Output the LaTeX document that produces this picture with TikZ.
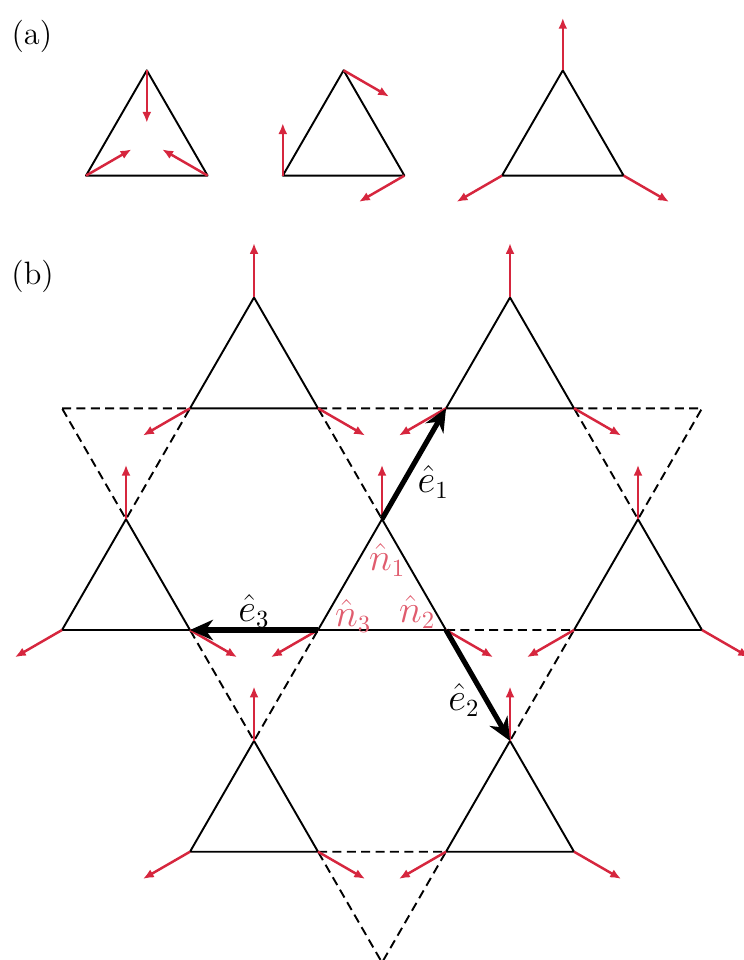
\documentclass[tikz,border=0pt]{standalone}
\usepackage{tikz}
\usetikzlibrary{arrows.meta}
\definecolor{spinred}{RGB}{214,38,62}
\tikzset{
  bond/.style  = {line width=0.85pt, line join=round},
  dbond/.style = {bond, dash pattern=on 4pt off 2.4pt},
  spin/.style  = {-{Latex[length=1.7mm,width=1.4mm]}, line width=1.1pt, spinred},
  bvec/.style  = {-{Stealth[length=3.6mm,width=3.2mm]}, line width=2.3pt},
  elab/.style  = {font=\fontsize{16}{18}\selectfont},
  nlab/.style  = {elab, text=spinred!75},
}

\begin{document}
\begin{tikzpicture}[x=1cm,y=1cm]
\useasboundingbox (-0.969,-5.156) rectangle (10.656,9.844);
\def\h{1.732}
\node[font=\Large] (la) at (-0.47,9.27) {(a)};
\node[font=\Large] (lb) at (-0.46,5.53) {(b)};
% (a) three spin configurations on one triangle
\foreach \bx/\a/\b/\c in {0.375/30/150/-90, 3.45/90/210/-30, 6.875/210/-30/90}{
  \draw[bond] (\bx,7.1) -- ++(1.9,0) -- ++(-0.95,1.645) -- cycle;
  \draw[spin] (\bx,7.1) -- ++(\a:0.82);
  \draw[spin] (\bx+1.9,7.1) -- ++(\b:0.82);
  \draw[spin] (\bx+0.95,8.745) -- ++(\c:0.82);
}
% (b) kagome lattice, down triangles dashed
\foreach \x/\y in {0/2,4/2,8/2,2/0,6/0,4/-2}
  \draw[dbond] (\x,\y*\h) -- ++(2,0) -- ++(-1,-\h) -- cycle;
\foreach \x/\y in {2/2,6/2,0/0,4/0,8/0,2/-2,6/-2}{
  \draw[bond] (\x,\y*\h) -- ++(2,0) -- ++(-1,\h) -- cycle;
  \draw[spin] (\x,\y*\h) -- ++(210:0.85);
  \draw[spin] (\x+2,\y*\h) -- ++(-30:0.85);
  \draw[spin] (\x+1,\y*\h+\h) -- ++(90:0.85);
}
\coordinate (cA) at (5,\h);
\coordinate (cL) at (4,0);
\coordinate (cR) at (6,0);
\coordinate (tR) at (6,2*\h);
\coordinate (bR) at (7,-\h);
\coordinate (mL) at (2,0);
\draw[bvec] (cA) -- (tR);
\draw[bvec] (cR) -- (bR);
\draw[bvec] (cL) -- (mL);
\node[elab] (e1) at (5.80,2.31) {$\hat e_1$};
\node[elab] (e2) at (6.28,-1.09) {$\hat e_2$};
\node[elab] (e3) at (3.0,0.30) {$\hat e_3$};
\node[nlab] (n1) at (5.08,1.09) {$\hat n_1$};
\node[nlab] (n2) at (5.55,0.28) {$\hat n_2$};
\node[nlab] (n3) at (4.55,0.22) {$\hat n_3$};
\end{tikzpicture}
\end{document}
